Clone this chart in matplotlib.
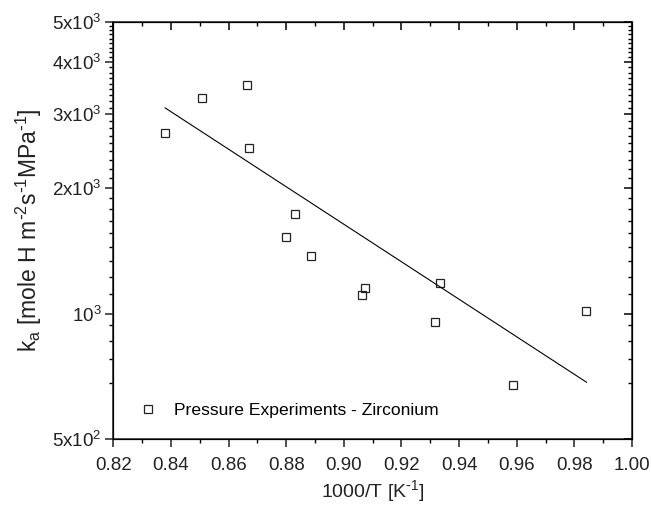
import matplotlib
matplotlib.use('Agg')
import matplotlib.pyplot as plt
from matplotlib.ticker import FixedLocator, NullFormatter

plt.rcParams['font.family'] = ['Liberation Sans', 'DejaVu Sans']
plt.rcParams['mathtext.default'] = 'regular'

# data
inv_T = [0.8380, 0.8507, 0.8664, 0.8670, 0.8831, 0.8801, 0.8886,
         0.9074, 0.9064, 0.9333, 0.9318, 0.9586, 0.9839]
k_a = [2713, 3278, 3535, 2497, 1732, 1526, 1376,
       1152, 1108, 1186, 955, 675, 1015]

# fitted line (end points)
fit_x = [0.838, 0.9842]
fit_y = [3108, 685]

x_ticks = [0.82, 0.84, 0.86, 0.88, 0.90, 0.92, 0.94, 0.96, 0.98, 1.00]
x_minor = [0.83, 0.85, 0.87, 0.89, 0.91, 0.93, 0.95, 0.97, 0.99]
y_ticks = [500, 1000, 2000, 3000, 4000, 5000]
y_labels = ['5x10$^2$', '10$^3$', '2x10$^3$', '3x10$^3$', '4x10$^3$', '5x10$^3$']
y_minor = [682, 777, 861, 937]
for lo, hi in [(1000, 2000), (2000, 3000), (3000, 4000), (4000, 5000)]:
    y_minor += [lo + (hi - lo) * k / 9 for k in range(1, 9)]

fig = plt.figure(figsize=(6.51, 5.07), dpi=100)
ax = fig.add_axes([113.3 / 651, 1 - 439.3 / 507, 518.7 / 651, 417.6 / 507])

ax.plot(inv_T, k_a, linestyle='none', marker='s', markersize=6.2,
        markerfacecolor='none', markeredgecolor='#222222', markeredgewidth=0.9,
        label='Pressure Experiments - Zirconium')
ax.plot(fit_x, fit_y, color='black', linewidth=0.8)

ax.set_yscale('log')
ax.set_xlim(0.82, 1.00)
ax.set_ylim(500, 5000)

ax.xaxis.set_major_locator(FixedLocator(x_ticks))
ax.xaxis.set_minor_locator(FixedLocator(x_minor))
ax.set_xticklabels(['%.2f' % v for v in x_ticks])
ax.yaxis.set_major_locator(FixedLocator(y_ticks))
ax.yaxis.set_minor_locator(FixedLocator(y_minor))
ax.yaxis.set_minor_formatter(NullFormatter())
ax.set_yticklabels(y_labels)

ax.tick_params(which='major', direction='out', length=5.5, width=1.1,
               labelsize=13.5, pad=3, colors='#222222')
ax.tick_params(axis='x', which='major', pad=7)
ax.tick_params(which='minor', direction='out', length=3, width=1.0)
for s in ax.spines.values():
    s.set_linewidth(1.1)
    s.set_color('#222222')

# mirrored ticks pointing inward on top and right
axt = ax.twiny()
axt.set_xlim(ax.get_xlim())
axt.xaxis.set_major_locator(FixedLocator(x_ticks))
axt.xaxis.set_minor_locator(FixedLocator(x_minor))
axt.tick_params(which='major', direction='in', length=5.5, width=1.1, labeltop=False)
axt.tick_params(which='minor', direction='in', length=3, width=1.0)
axr = ax.twinx()
axr.set_yscale('log')
axr.set_ylim(ax.get_ylim())
axr.yaxis.set_major_locator(FixedLocator(y_ticks))
axr.yaxis.set_minor_locator(FixedLocator(y_minor))
axr.tick_params(which='major', direction='in', length=5.5, width=1.1, labelright=False)
axr.tick_params(which='minor', direction='in', length=3, width=1.0, labelright=False)

ax.set_xlabel(r'1000/T [K$^{\text{-}1}$]', fontsize=14, color='#222222', labelpad=3)
ax.set_ylabel(r'k$_a$ [mole H m$^{\text{-}2}$s$^{\text{-}1}$MPa$^{\text{-}1}$]',
              fontsize=16.5, color='#222222', labelpad=6)

ax.legend(loc='lower left', bbox_to_anchor=(0.02, 0.013), frameon=False,
          fontsize=12.6, handlelength=1.0, handletextpad=1.0, markerscale=0.9)

fig.savefig('out.png', dpi=100)
